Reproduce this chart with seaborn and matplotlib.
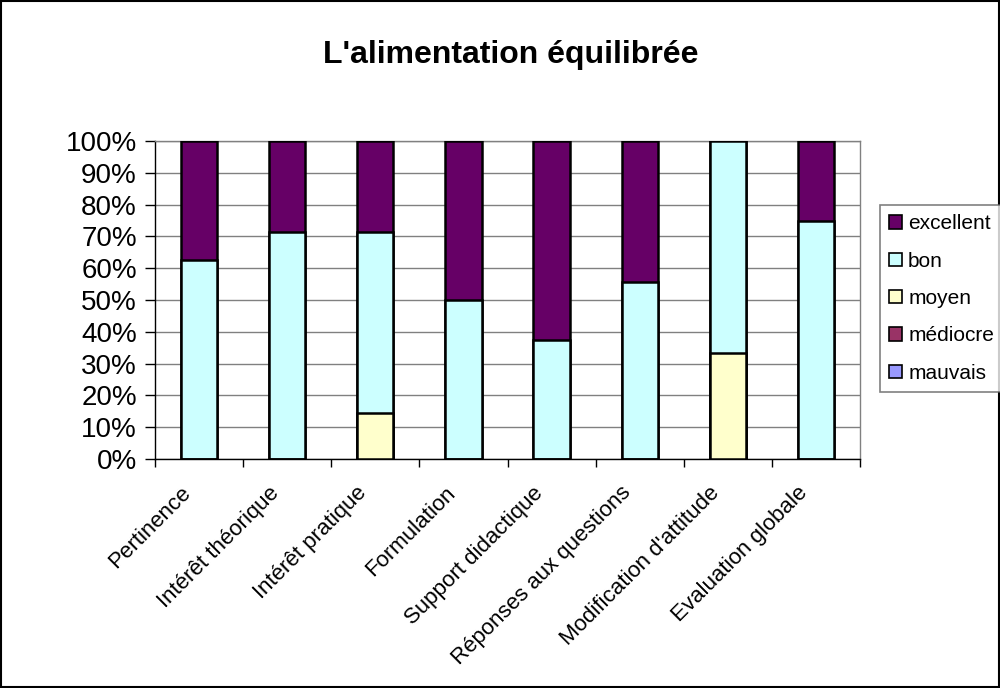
import matplotlib
matplotlib.use("Agg")
import matplotlib.pyplot as plt
import matplotlib.transforms as mtransforms
import seaborn as sns
from matplotlib.patches import Patch, Rectangle
from matplotlib.ticker import FixedLocator, PercentFormatter

categories = ["Pertinence", "Intérêt théorique", "Intérêt pratique", "Formulation",
              "Support didactique", "Réponses aux questions",
              "Modification d'attitude", "Evaluation globale"]
mauvais = [0, 0, 0, 0, 0, 0, 0, 0]
mediocre = [0, 0, 0, 0, 0, 0, 0, 0]
moyen = [0, 0, 14.3, 0, 0, 0, 33.3, 0]
bon = [62.5, 71.4, 57.1, 50.0, 37.5, 55.6, 66.7, 75.0]
excellent = [37.5, 28.6, 28.6, 50.0, 62.5, 44.4, 0, 25.0]

series_names = ["mauvais", "médiocre", "moyen", "bon", "excellent"]
series_values = [mauvais, mediocre, moyen, bon, excellent]
series_colors = ["#9999FF", "#993366", "#FFFFCC", "#CCFFFF", "#660066"]

sns.set_style("white")
plt.rcParams["font.family"] = ["Liberation Sans", "DejaVu Sans"]
plt.rcParams["text.color"] = "black"
plt.rcParams["xtick.color"] = "black"
plt.rcParams["ytick.color"] = "black"
plt.rcParams["xtick.labelcolor"] = "black"
plt.rcParams["ytick.labelcolor"] = "black"

fig = plt.figure(figsize=(10, 6.88), dpi=100)
ax = fig.add_axes([0.155, 0.333, 0.705, 0.462])

# cumulative totals, drawn from the top layer down so each layer overlays the next
cumulative = []
running = [0.0] * len(categories)
for vals in series_values:
    running = [r + v for r, v in zip(running, vals)]
    cumulative.append(list(running))

for name, cum, col in reversed(list(zip(series_names, cumulative, series_colors))):
    if max(cum) <= 0:
        continue
    sns.barplot(x=categories, y=cum, color=col, saturation=1, width=0.41,
                edgecolor="black", linewidth=1.8, errorbar=None, ax=ax, zorder=3)

ax.set_xlim(-0.5, len(categories) - 0.5)
ax.set_ylim(0, 100)
ax.yaxis.set_major_locator(FixedLocator(range(0, 101, 10)))
ax.yaxis.set_major_formatter(PercentFormatter(decimals=0))
ax.yaxis.grid(True, color="#808080", linewidth=1)
ax.set_axisbelow(True)

for side in ("left", "bottom"):
    ax.spines[side].set_color("black")
    ax.spines[side].set_linewidth(1)
for side in ("top", "right"):
    ax.spines[side].set_color("#808080")
    ax.spines[side].set_linewidth(1)

ax.tick_params(axis="y", direction="out", length=7, width=1, color="black",
               labelsize=20, pad=6, left=True)
ax.set_xticks(range(len(categories)))
ax.set_xticklabels(categories, rotation=45, ha="right", rotation_mode="anchor",
                   fontsize=16)
ax.tick_params(axis="x", which="major", length=0, pad=14)
shift = mtransforms.ScaledTranslation(-0.19, -0.04, fig.dpi_scale_trans)
for lab in ax.get_xticklabels():
    lab.set_transform(lab.get_transform() + shift)
ax.xaxis.set_minor_locator(FixedLocator([i - 0.5 for i in range(len(categories) + 1)]))
ax.tick_params(axis="x", which="minor", direction="out", length=6, width=1,
               color="black", bottom=True)
ax.set_xlabel("")
ax.set_ylabel("")

fig.text(0.511, 0.920, "L'alimentation équilibrée", ha="center", va="center",
         fontsize=23, fontweight="bold")

handles = [Patch(facecolor=c, edgecolor="black", linewidth=1.2)
           for c in reversed(series_colors)]
leg = fig.legend(handles, list(reversed(series_names)), loc="upper left",
                 bbox_to_anchor=(0.88, 0.702), frameon=True, fancybox=False,
                 edgecolor="#606060", fontsize=15, handlelength=0.6,
                 handleheight=0.6, handletextpad=0.3, labelspacing=0.88,
                 borderpad=0.45, borderaxespad=0)
leg.get_frame().set_linewidth(1.2)

fig.patches.append(Rectangle((0.001, 0.001), 0.998, 0.997, transform=fig.transFigure,
                             fill=False, edgecolor="black", linewidth=1.5))

fig.savefig("out.png", dpi=100, facecolor="white")
